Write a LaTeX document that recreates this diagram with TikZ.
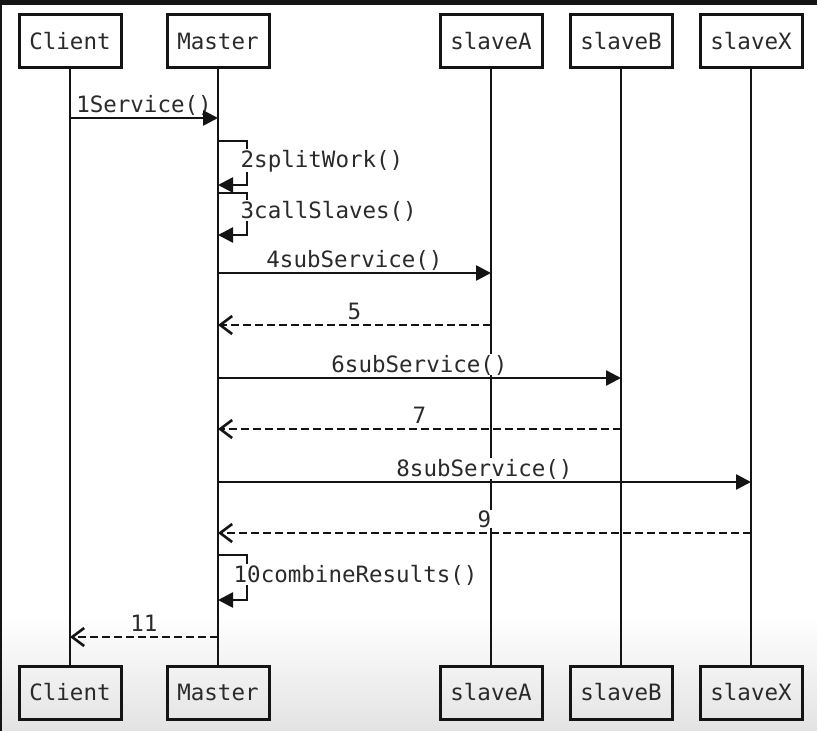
\documentclass[tikz,border=0pt]{standalone}
\usepackage{fontspec}
\setmonofont{DejaVu Sans Mono}
\usetikzlibrary{arrows.meta}
\definecolor{ink}{HTML}{141414}
\definecolor{txt}{HTML}{2A2A2A}
\begin{document}
\begin{tikzpicture}[x=1pt,y=-1pt,
  actor/.style={draw=ink,line width=3pt,minimum width=102pt,minimum height=53pt,inner sep=0pt,
    font=\ttfamily\fontsize{22.5}{24}\selectfont,text=txt},
  life/.style={draw=ink,line width=2.6pt},
  msg/.style={draw=ink,line width=2.6pt,-{Triangle[length=15pt,width=15pt]}},
  ret/.style={draw=ink,line width=2.6pt,dash pattern=on 8pt off 4pt,
    -{Straight Barb[length=12pt,width=18pt]}},
  lab/.style={font=\ttfamily\fontsize{22.5}{24}\selectfont,text=txt,fill=white,inner sep=0.5pt},
  mlab/.style={lab,anchor=base,midway,yshift=6pt},
  slab/.style={lab,anchor=base west}]
% background
\useasboundingbox (0,0) rectangle (817,731);
\fill[white] (0,0) rectangle (817,731);
\shade[top color=white,bottom color=black!11,shading angle=0] (0,615) rectangle (817,731);
\fill[black!92] (0,0) rectangle (817,5);
\fill[black!92] (0,0) rectangle (2,731);
% actors
\node[actor,fill=white] (cT) at (70,41) {Client};
\node[actor,fill=white] (mT) at (218,41) {Master};
\node[actor,fill=white] (aT) at (491,41) {slaveA};
\node[actor,fill=white] (bT) at (621,41) {slaveB};
\node[actor,fill=white] (xT) at (751,41) {slaveX};
\node[actor] (cB) at (70,692.5) {Client};
\node[actor] (mB) at (218,692.5) {Master};
\node[actor] (aB) at (491,692.5) {slaveA};
\node[actor] (bB) at (621,692.5) {slaveB};
\node[actor] (xB) at (751,692.5) {slaveX};
% lifelines
\foreach \n in {c,m,a,b,x}{\draw[life] (\n T.south) -- (\n B.north);}
% message end points
\coordinate (c1) at (cT |- 0,118);  \coordinate (m1) at (mT |- 0,118);
\coordinate (m2a) at (mT |- 0,141); \coordinate (m2b) at (mT |- 0,185);
\coordinate (m3a) at (mT |- 0,193); \coordinate (m3b) at (mT |- 0,235);
\coordinate (m4) at (mT |- 0,273);  \coordinate (a4) at (aT |- 0,273);
\coordinate (m5) at (mT |- 0,325);  \coordinate (a5) at (aT |- 0,325);
\coordinate (m6) at (mT |- 0,378);  \coordinate (b6) at (bT |- 0,378);
\coordinate (m7) at (mT |- 0,429);  \coordinate (b7) at (bT |- 0,429);
\coordinate (m8) at (mT |- 0,482);  \coordinate (x8) at (xT |- 0,482);
\coordinate (m9) at (mT |- 0,533);  \coordinate (x9) at (xT |- 0,533);
\coordinate (m10a) at (mT |- 0,555); \coordinate (m10b) at (mT |- 0,600);
\coordinate (m11) at (mT |- 0,637); \coordinate (c11) at (cT |- 0,637);
% self loops
\draw[msg] (m2a) -- ++(29,0) |- (m2b);
\draw[msg] (m3a) -- ++(29,0) |- (m3b);
\draw[msg] (m10a) -- ++(29,0) |- (m10b);
% labels
\path (c1) -- (m1) node[mlab] (t1) {1Service()};
\node[slab] (t2) at (240,167) {2splitWork()};
\node[slab] (t3) at (240,218) {3callSlaves()};
\path (m4) -- (a4) node[mlab] (t4) {4subService()};
\path (m5) -- (a5) node[mlab] (t5) {5};
\path (m6) -- (b6) node[mlab] (t6) {6subService()};
\path (m7) -- (b7) node[mlab] (t7) {7};
\path (m8) -- (x8) node[mlab] (t8) {8subService()};
\path (m9) -- (x9) node[mlab] (t9) {9};
\node[slab] (t10) at (233,582) {10combineResults()};
\path (m11) -- (c11) node[mlab] (t11) {11};
% messages
\draw[msg] (c1) -- (m1);
\draw[msg] (m4) -- (a4);
\draw[ret] (a5) -- (m5);
\draw[msg] (m6) -- (b6);
\draw[ret] (b7) -- (m7);
\draw[msg] (m8) -- (x8);
\draw[ret] (x9) -- (m9);
\draw[ret] (m11) -- (c11);
\end{tikzpicture}
\end{document}
